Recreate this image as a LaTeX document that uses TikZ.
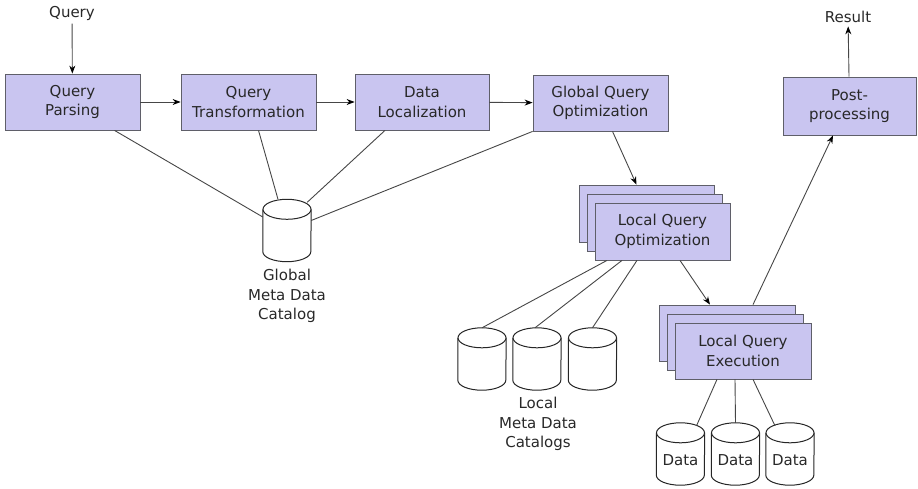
\documentclass[tikz,border=0pt]{standalone}
\usepackage{fontspec}
\setmainfont{DejaVu Sans}
\usetikzlibrary{arrows.meta}
\definecolor{boxfill}{RGB}{201,197,240}
\definecolor{boxline}{RGB}{95,95,105}
\definecolor{conn}{RGB}{70,70,70}
\definecolor{txt}{RGB}{40,40,40}
\tikzset{
  every node/.style={text=txt, font=\fontsize{15}{19.5}\selectfont},
  procbox/.style={draw=boxline, fill=boxfill, line width=0.8pt, align=center,
     minimum width=135pt, minimum height=56pt, inner sep=0pt},
  conline/.style={draw=conn, line width=0.9pt},
  arr/.style={conline, -{Stealth[length=8pt,width=6pt,color=black]}},
  cylline/.style={draw=black!85, line width=1pt, fill=white},
  cylbox/.style={minimum width=48pt, minimum height=62pt, inner sep=0pt},
  lbl/.style={align=center}
}
\newcommand\dbcyl[3]{%
  \node[cylbox] (#1) at (#2,#3) {};
  \draw[cylline] ([yshift=-10pt]#1.north west) -- ([yshift=10pt]#1.south west)
     arc[start angle=180,end angle=360,x radius=24pt,y radius=10pt]
     -- ([yshift=-10pt]#1.north east);
  \draw[cylline] ([yshift=-10pt]#1.north) ellipse[x radius=24pt,y radius=10pt];
}
\begin{document}
\begin{tikzpicture}[x=1pt,y=-1pt]
\useasboundingbox (0,0) rectangle (918,489);

% main chain
\node[procbox] (qp) at (72.5,102) {Query\\Parsing};
\node[procbox] (qt) at (248.5,102) {Query\\Transformation};
\node[procbox, minimum width=134pt] (dl) at (422,102) {Data\\Localization};
\node[procbox] (gqo) at (600.5,103) {Global Query\\Optimization};
\node[procbox, minimum width=133pt, minimum height=58pt] (pp) at (849.5,106) {Post-\\processing};

\node (query) at (72,13) {Query};
\node (result) at (848,17) {Result};

% local query optimization stack
\node[procbox, minimum height=57pt] (lqo3) at (646.5,213.5) {};
\node[procbox, minimum height=57pt] (lqo2) at (654.5,222.5) {};
\node[procbox, minimum height=57pt] (lqo) at (662.5,231.5) {Local Query\\Optimization};

% local query execution stack
\node[procbox, minimum width=136pt] (lqe3) at (727,333) {};
\node[procbox, minimum width=136pt] (lqe2) at (735,342) {};
\node[procbox, minimum width=136pt] (lqe) at (743,351) {Local Query\\Execution};

% cylinders
\dbcyl{g}{287}{230.5}
\node[lbl] (glbl) at (287,296) {Global\\Meta Data\\Catalog};

\dbcyl{c1}{482}{359}
\dbcyl{c2}{537}{359}
\dbcyl{c3}{592.5}{359}
\node[lbl] (clbl) at (538,424) {Local\\Meta Data\\Catalogs};

\dbcyl{d1}{680.5}{454}
\dbcyl{d2}{735.5}{454}
\dbcyl{d3}{790}{454}
\node (d1t) at ([yshift=-6pt]d1.center) {Data};
\node (d2t) at ([yshift=-6pt]d2.center) {Data};
\node (d3t) at ([yshift=-6pt]d3.center) {Data};

% arrows
\draw[arr] (query) -- (qp);
\draw[arr] (qp) -- (qt);
\draw[arr] (qt) -- (dl);
\draw[arr] (dl) -- (gqo);
\draw[arr] (pp) -- (result);
\draw[arr] ([xshift=12pt]gqo.south) -- ([xshift=-10pt]lqo3.north);
\draw[arr] ([xshift=17.5pt]lqo.south) -- ([xshift=-17pt]lqe3.north);
\draw[arr] ([xshift=26pt]lqe3.north) -- ([xshift=-16.5pt]pp.south);

% catalog lines
\draw[conline] ([xshift=42pt]qp.south) -- ([yshift=13.5pt]g.west);
\draw[conline] ([xshift=10pt]qt.south) -- ([xshift=-9pt]g.north);
\draw[conline] ([xshift=-37pt]dl.south) -- ([xshift=-4pt,yshift=-3pt]g.north east);
\draw[conline] (gqo.south west) -- ([yshift=10pt]g.east);

\draw[conline] ([xshift=-55.5pt]lqo.south) -- (c1.north);
\draw[conline] ([xshift=-40.5pt]lqo.south) -- ([xshift=-2pt]c2.north);
\draw[conline] ([xshift=-25.5pt]lqo.south) -- (c3.north);

\draw[conline] ([xshift=-26pt]lqe.south) -- ([xshift=16pt,yshift=-3pt]d1.north);
\draw[conline] ([xshift=-8pt]lqe.south) -- (d2.north);
\draw[conline] ([xshift=10pt]lqe.south) -- ([xshift=-15pt,yshift=-3pt]d3.north);
\end{tikzpicture}
\end{document}
